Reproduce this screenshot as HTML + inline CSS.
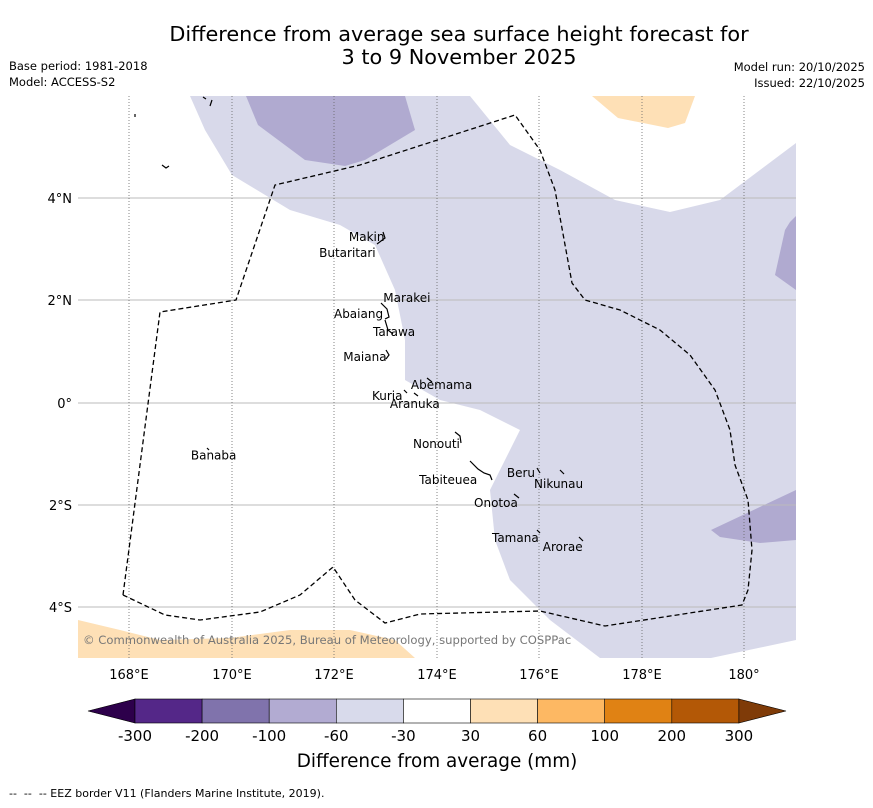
<!DOCTYPE html>
<html><head><meta charset="utf-8"><style>
body{margin:0;background:#fff;width:873px;height:804px;overflow:hidden;font-family:"DejaVu Sans","Liberation Sans",sans-serif}
svg text{font-family:"DejaVu Sans","Liberation Sans",sans-serif}
</style></head><body>
<svg width="873" height="804" xmlns="http://www.w3.org/2000/svg">
<text x="459" y="41" font-size="20.8" text-anchor="middle">Difference from average sea surface height forecast for</text>
<text x="459" y="64" font-size="20.8" text-anchor="middle">3 to 9 November 2025</text>
<text x="9" y="70" font-size="11.5">Base period: 1981-2018</text>
<text x="9" y="86" font-size="11.5">Model: ACCESS-S2</text>
<text x="865" y="71" font-size="11.5" text-anchor="end">Model run: 20/10/2025</text>
<text x="865" y="87" font-size="11.5" text-anchor="end">Issued: 22/10/2025</text>
<defs><clipPath id="mc"><rect x="78" y="96" width="718" height="562"/></clipPath></defs>
<g id="map" clip-path="url(#mc)">
<polygon fill="#d8d9ea" points="190,96 470,96 510,145 560,170 615,200 670,212 720,200 796,143 796,640 711,658 600,658 550,620 510,580 495,540 490,490 505,460 520,430 480,410 440,400 405,380 405,340 395,290 375,245 340,225 290,210 232,175 205,130"/>
<polygon fill="#b0aad0" points="246,96 405,96 415,130 365,160 345,166 305,160 258,125"/>
<polygon fill="#b0aad0" points="790,222 796,216 796,290 775,275 785,230"/>
<polygon fill="#b0aad0" points="711,530 796,490 796,540 760,543 720,537"/>
<polygon fill="#fee0b6" points="592,96 695,96 685,123 668,128 618,118"/>
<polygon fill="#fee0b6" points="78,620 120,630 160,640 230,638 290,630 350,630 395,640 415,658 78,658"/>
<g stroke="#bbb" stroke-width="1">
<line x1="78" x2="796" y1="198" y2="198"/><line x1="78" x2="796" y1="300" y2="300"/><line x1="78" x2="796" y1="403" y2="403"/><line x1="78" x2="796" y1="505" y2="505"/><line x1="78" x2="796" y1="607" y2="607"/>
</g>
<g stroke="#666" stroke-width="0.8" stroke-dasharray="1,2">
<line x1="129" x2="129" y1="96" y2="658"/><line x1="232" x2="232" y1="96" y2="658"/><line x1="334" x2="334" y1="96" y2="658"/><line x1="437" x2="437" y1="96" y2="658"/><line x1="539" x2="539" y1="96" y2="658"/><line x1="642" x2="642" y1="96" y2="658"/><line x1="744" x2="744" y1="96" y2="658"/>
</g>
<polyline fill="none" stroke="#000" stroke-width="1.3" stroke-dasharray="5,3" points="123,595 160,312 236,300 275,185 360,165 515,115 540,150 555,190 572,283 585,300 620,310 660,330 690,355 715,390 730,430 735,465 748,500 752,550 748,590 742,605 605,626 540,611 420,614 385,623 355,600 333,567 300,595 260,612 200,620 165,615 123,595"/>
<g stroke="#000" stroke-width="1.2" fill="none">
<path d="M383,232 l2,6 -8,6"/><path d="M381,303 l6,6 2,8 -4,2"/><path d="M385,320 l3,10 5,4"/><path d="M386,350 l3,5 -3,4"/><path d="M427,378 l5,4"/><path d="M404,390 l3,3 M414,393 l4,3"/><path d="M455,432 l5,4 1,7"/><path d="M470,461 l8,8 6,4 6,2 2,5"/><path d="M537,468 l3,5"/><path d="M560,470 l4,4"/><path d="M514,494 l5,4"/><path d="M537,530 l3,3"/><path d="M579,537 l4,4"/><path d="M207,448 l2,2"/><path d="M135,114 v3"/><path d="M162,165 l4,3 3,-2"/><path d="M203,97 l3,2 M212,100 l-2,6"/>
</g>
<text x="83" y="644" font-size="11.6" fill="#777">© Commonwealth of Australia 2025, Bureau of Meteorology, supported by COSPPac</text>
<g font-size="12" fill="#000" id="labels"></g>
</g>
<g font-size="13" text-anchor="end">
<text x="72" y="203">4°N</text><text x="72" y="305">2°N</text><text x="72" y="408">0°</text><text x="72" y="510">2°S</text><text x="72" y="612">4°S</text>
</g>
<g font-size="13" text-anchor="middle">
<text x="129" y="679">168°E</text><text x="232" y="679">170°E</text><text x="334" y="679">172°E</text><text x="437" y="679">174°E</text><text x="539" y="679">176°E</text><text x="642" y="679">178°E</text><text x="744" y="679">180°</text>
</g>
<g id="cbar"></g>
<text x="437" y="767" font-size="18.4" text-anchor="middle">Difference from average (mm)</text>
<text x="9" y="797" font-size="11" xml:space="preserve" style="white-space:pre">--  --  -- EEZ border V11 (Flanders Marine Institute, 2019).</text>
</svg>
<script>
const islandNames=["Makin","Butaritari","Marakei","Abaiang","Tarawa","Maiana","Abemama","Kuria","Aranuka","Nonouti","Banaba","Beru","Nikunau","Tabiteuea","Onotoa","Tamana","Arorae"];
const islandLon=[172.28,171.70,172.95,171.99,172.75,172.17,173.49,172.73,173.08,173.53,169.20,175.36,175.89,173.65,174.72,175.07,176.06];
const islandLat=[3.24,2.93,2.05,1.74,1.39,0.90,0.35,0.14,-0.02,-0.80,-1.03,-1.37,-1.58,-1.50,-1.95,-2.64,-2.81];
const cbTicks=["-300","-200","-100","-60","-30","30","60","100","200","300"];
const cbColors=["#542788","#8073ac","#b2abd2","#d8daeb","#ffffff","#fee0b6","#fdb863","#e08214","#b35806"];
const lonX=l=>78+(l-167)*51.3, latY=p=>403-p*51.2;
const ns="http://www.w3.org/2000/svg";
const lg=document.getElementById('labels');
islandNames.forEach((n,i)=>{const t=document.createElementNS(ns,'text');
t.setAttribute('x',lonX(islandLon[i]));t.setAttribute('y',latY(islandLat[i])+4);t.textContent=n;


lg.appendChild(t);});
const cb=document.getElementById('cbar');const x0=135,w=67.1,y0=699,h=24;
function add(tag,a){const e=document.createElementNS(ns,tag);for(const k in a)e.setAttribute(k,a[k]);cb.appendChild(e);return e;}
const lt=add('polygon',{points:`88,${y0+h/2} ${x0},${y0} ${x0},${y0+h}`,fill:'#2d004b',stroke:'#000','stroke-width':0.6});


cbColors.forEach((c,i)=>{const r=add('rect',{x:x0+i*w,y:y0,width:w,height:h,fill:c,stroke:'#000','stroke-width':0.6});

});
const xe=x0+cbColors.length*w;
const rt=add('polygon',{points:`${xe},${y0} 786,${y0+h/2} ${xe},${y0+h}`,fill:'#7f3b08',stroke:'#000','stroke-width':0.6});


cbTicks.forEach((t,i)=>{const e=add('text',{x:x0+i*w,y:741,'font-size':15,'text-anchor':'middle'});e.textContent=t;

});
</script>
</body></html>
